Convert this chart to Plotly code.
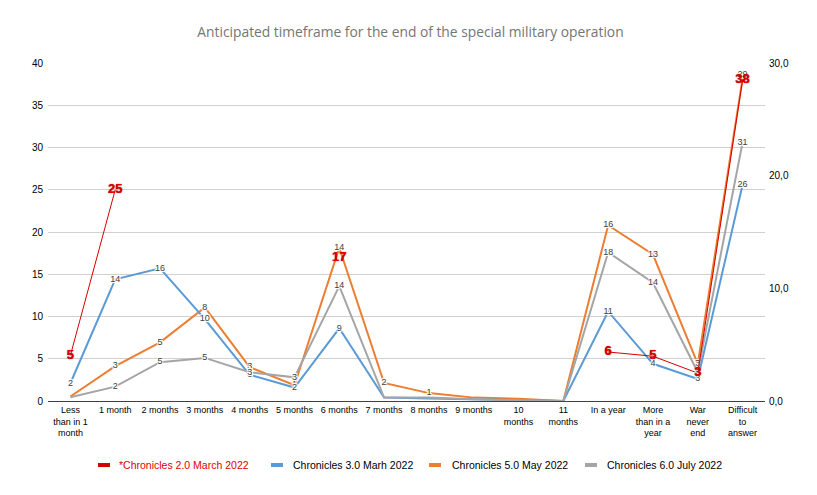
import plotly.graph_objects as go

categories = ["Less than in 1 month", "1 month", "2 months", "3 months", "4 months",
              "5 months", "6 months", "7 months", "8 months", "9 months", "10 months",
              "11 months", "In a year", "More than in a year", "War never end",
              "Difficult to answer"]
tick_labels = ["Less<br>than in 1<br>month", "1 month", "2 months", "3 months", "4 months",
               "5 months", "6 months", "7 months", "8 months", "9 months", "10<br>months",
               "11<br>months", "In a year", "More<br>than in a<br>year", "War<br>never<br>end",
               "Difficult<br>to<br>answer"]

# left axis series
red = [5.4, 25, None, None, None, None, 17, None, None, None, None, None, 5.8, 5.3, 3.3, 38]
blue = [2.1, 14.4, 15.7, 9.7, 3.1, 1.6, 8.6, 0.4, 0.3, 0.2, 0.1, 0.0, 10.6, 4.4, 2.6, 25.6]
gray = [0.45, 1.7, 4.6, 5.1, 3.4, 2.8, 13.6, 0.4, 0.4, 0.2, 0.1, 0.0, 17.6, 14.0, 3.4, 30.6]
# right axis series
orange = [0.4, 3.1, 5.2, 8.3, 3.0, 1.4, 13.6, 1.6, 0.7, 0.3, 0.2, 0.0, 15.6, 13.0, 3.3, 28.6]

names = ["*Chronicles 2.0 March 2022", "Chronicles 3.0 Marh 2022",
         "Chronicles 5.0 May 2022", "Chronicles 6.0 July 2022"]
title = "Anticipated timeframe for the end of the special military operation"

RED = "#d40000"
BLUE = "#5b9bd5"
ORANGE = "#ed7d31"
GRAY = "#a5a5a5"
colors = [RED, BLUE, ORANGE, GRAY]

W, H = 817, 495
ML, MR, MT, MB = 48, 52, 63, 94
PW, PH = W - ML - MR, H - MT - MB


def lbl(vals):
    out = []
    for v in vals:
        if v is None:
            out.append("")
        else:
            r = int(v + 0.5)
            out.append(str(r) if r >= 1 else "")
    return out


halo = ("-1px -1px 0px #fff, 1px 1px 0px #fff, -1px 1px 0px #fff, 1px -1px 0px #fff, "
        "0px 1px 1px #fff, 0px -1px 1px #fff")
lblfont = dict(family="Liberation Sans", size=9, color="#404040", shadow=halo)

fig = go.Figure()

# orange on the right (primary) axis
fig.add_trace(go.Scatter(x=categories, y=orange, mode="lines", name=names[2],
                         line=dict(color=ORANGE, width=2), yaxis="y"))
fig.add_trace(go.Scatter(x=categories, y=blue, mode="lines", name=names[1],
                         line=dict(color=BLUE, width=2), yaxis="y2"))
fig.add_trace(go.Scatter(x=categories, y=gray, mode="lines", name=names[3],
                         line=dict(color=GRAY, width=2), yaxis="y2"))
fig.add_trace(go.Scatter(x=categories, y=red, mode="lines", connectgaps=False,
                         name=names[0], line=dict(color=RED, width=1), yaxis="y2"))

# data labels
orange_pos = ["middle center"] * (len(categories) - 1) + ["top center"]
fig.add_trace(go.Scatter(x=categories, y=orange, mode="text", text=lbl(orange),
                         textposition=orange_pos, textfont=lblfont,
                         yaxis="y", hoverinfo="skip"))
fig.add_trace(go.Scatter(x=categories, y=blue, mode="text", text=lbl(blue),
                         textposition="middle center", textfont=lblfont,
                         yaxis="y2", hoverinfo="skip"))
fig.add_trace(go.Scatter(x=categories, y=gray, mode="text", text=lbl(gray),
                         textposition="middle center", textfont=lblfont,
                         yaxis="y2", hoverinfo="skip"))
fig.add_trace(go.Scatter(x=categories, y=red, mode="text", text=lbl(red),
                         textposition="middle center",
                         textfont=dict(family="Liberation Sans", size=13, color="#e00000",
                                       weight="bold", shadow="0px 0px 1px #800000"),
                         yaxis="y2", hoverinfo="skip"))

# custom legend (short thick swatch + text), positions in pixels
leg_swatch_x = [98, 271, 429, 585]
leg_text_x = [117, 291, 450, 605]
leg_y = 465
shapes = []
annotations = []
for i in range(4):
    x0 = (leg_swatch_x[i] - ML) / PW
    x1 = (leg_swatch_x[i] + 12 - ML) / PW
    y0 = (H - MB - (leg_y + 2)) / PH
    y1 = (H - MB - (leg_y - 2)) / PH
    shapes.append(dict(type="rect", xref="paper", yref="paper", x0=x0, x1=x1, y0=y0, y1=y1,
                       fillcolor=colors[i], line=dict(width=0)))
    annotations.append(dict(text=names[i], xref="paper", yref="paper",
                            x=(leg_text_x[i] - ML) / PW, y=(H - MB - leg_y) / PH,
                            xanchor="left", yanchor="middle", showarrow=False,
                            font=dict(family="Liberation Sans", size=10.5,
                                      color="#e00000" if i == 0 else "#000")))

fig.update_layout(
    width=W, height=H,
    margin=dict(l=ML, r=MR, t=MT, b=MB),
    paper_bgcolor="white", plot_bgcolor="white",
    separators=", ",
    showlegend=False,
    title=dict(text=title, x=410.5 / W, xanchor="center", xref="container",
               y=1 - 32 / H, yref="container", yanchor="middle",
               font=dict(family="Open Sans", size=13.8, color="#757575")),
    xaxis=dict(type="category", categoryorder="array", categoryarray=categories,
               tickvals=categories, ticktext=tick_labels, range=[-0.5, 15.5],
               showgrid=False, showline=True, linecolor="#404040", linewidth=1,
               ticks="", tickfont=dict(family="Liberation Sans", size=9, color="#000")),
    yaxis=dict(side="right", range=[0, 30], tickvals=[0, 10, 20, 30], tickformat=".1f",
               showgrid=False, zeroline=False, ticks="", ticklabelstandoff=3,
               tickfont=dict(family="Liberation Sans", size=10, color="#000")),
    yaxis2=dict(side="left", overlaying="y", range=[0, 40], dtick=5,
                showgrid=True, gridcolor="#d0d0d0", gridwidth=1, zeroline=False, ticks="",
                ticklabelstandoff=4,
                tickfont=dict(family="Liberation Sans", size=10, color="#000")),
    shapes=shapes,
    annotations=annotations,
)

fig.write_html("out.html")
